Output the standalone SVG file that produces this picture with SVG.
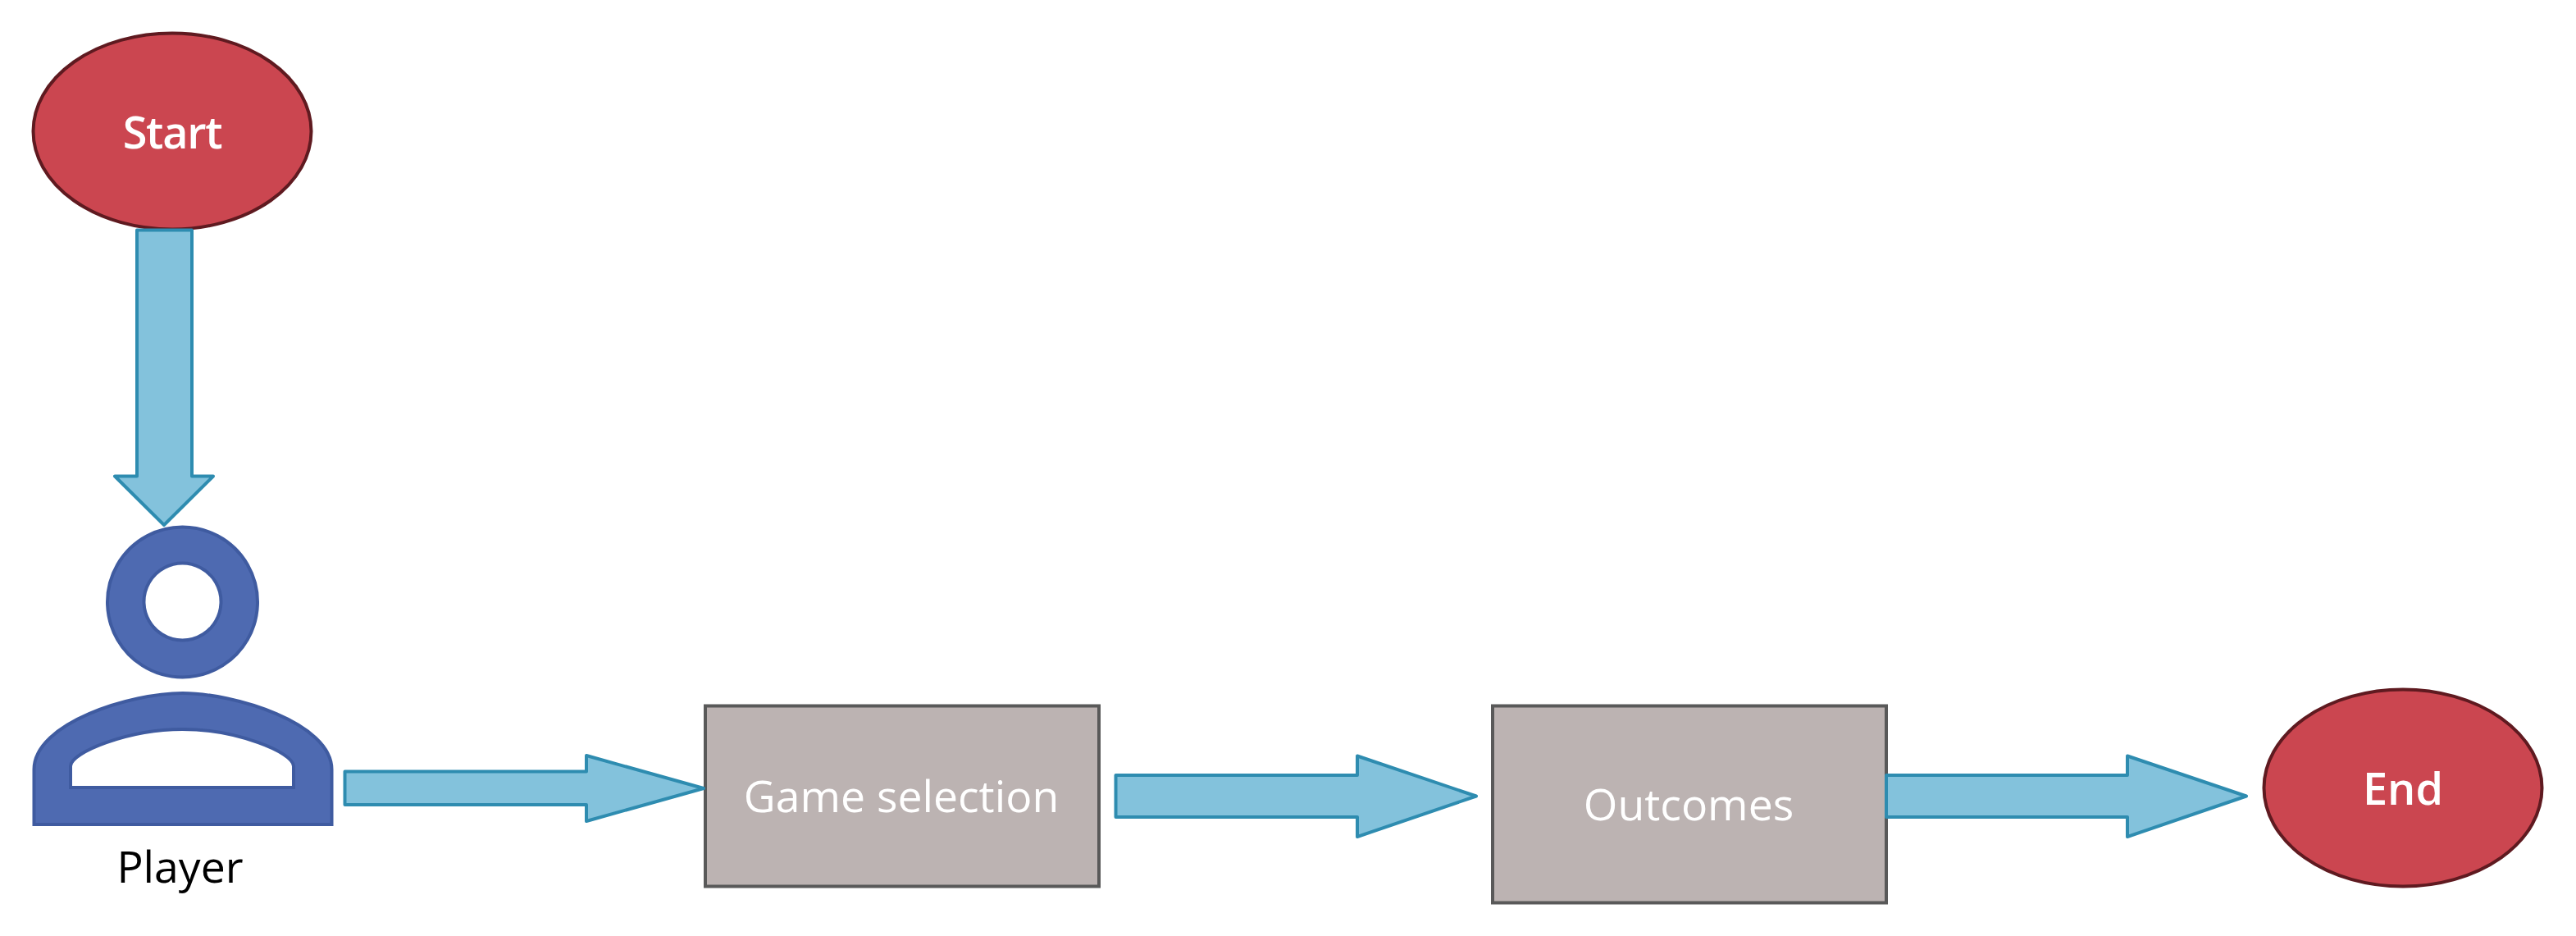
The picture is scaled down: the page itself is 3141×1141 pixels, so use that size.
<svg xmlns="http://www.w3.org/2000/svg" width="3141" height="1141" viewBox="0 0 3141 1141">
<style>
text{font-family:"Open Sans","Noto Sans","Liberation Sans",sans-serif;font-size:53.5px;text-anchor:middle}
.term{fill:#cb4650;stroke:#5f1a20;stroke-width:4}
.term-t{fill:#fff;font-weight:600;font-size:54px}
.box{fill:#bcb3b2;stroke:#595959;stroke-width:4}
.box-t{fill:#fff}
.actor{fill:#4e6ab1;stroke:#3f5ba0;stroke-width:4;fill-rule:evenodd}
.arrow{fill:#83c2dc;stroke:#2e8cb0;stroke-width:4;stroke-linejoin:round}
</style>
<rect width="3141" height="1141" fill="#fff"/>
<g id="start"><ellipse class="term" cx="210" cy="160" rx="169.500" ry="119.500"/><text class="term-t" x="210" y="181" letter-spacing="-1.300">Start</text></g>
<g id="player">
<path class="actor" d="M222.500 642.500a91.500 91.500 0 1 0 .01 0ZM222.500 686.500a47 47 0 1 1 -.01 0Z"/>
<path class="actor" d="M41.500 1005V938C41.500 881 160 845 222.500 845C285 845 404.500 881 404.500 938V1005ZM86 960H358V934C358 917 288 889 222.500 889C157 889 86 917 86 934Z"/>
<text x="219.500" y="1076" fill="#000">Player</text>
</g>
<g id="game-selection"><rect class="box" x="860" y="860.500" width="480" height="220"/><text class="box-t" x="1099" y="990">Game selection</text></g>
<g id="outcomes"><rect class="box" x="1820" y="860.500" width="480" height="240"/><text class="box-t" x="2059" y="1000">Outcomes</text></g>
<g id="end"><ellipse class="term" cx="2930" cy="960.500" rx="169.500" ry="120"/><text class="term-t" x="2930" y="981">End</text></g>
<g id="connectors">
<path class="arrow" d="M167 280.500H234V580.500H260L200 640L140 580.500H167Z"/>
<path class="arrow" d="M420.500 940.500H715V921L858 961L715 1001V981H420.500Z"/>
<path class="arrow" d="M1360.500 945H1655V921.500L1800 970.500L1655 1020V996H1360.500Z"/>
<path class="arrow" d="M2300 945H2594V921.500L2739 970.500L2594 1020V996H2300Z"/>
</g>
</svg>
